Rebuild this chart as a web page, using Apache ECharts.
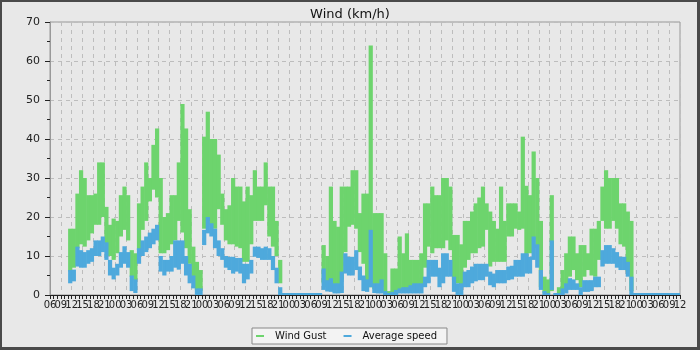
<!DOCTYPE html>
<html><head><meta charset="utf-8">
<script src="https://cdn.jsdelivr.net/npm/echarts@6/dist/echarts.min.js"></script>
<style>
html,body{margin:0;padding:0;background:#e8e8e8;}
#chart{position:absolute;left:0;top:0;width:700px;height:350px;}
#frame{position:absolute;left:0;top:0;width:700px;height:350px;box-sizing:border-box;border:2px solid #4a4a4a;border-right-width:3px;border-bottom-width:3px;pointer-events:none;}
</style></head>
<body><div id="chart"></div><div id="frame"></div>
<script>
// Hours are counted from 06:00 of the first day; arrays start at hour 5.
const START_HOUR = 5;
const xTickLabels = ['06','09','12','15','18','21','00','03'];
const seriesNames = ['Wind Gust', 'Average speed'];

// Hourly envelopes (max / min), hours 5..173
const gustHigh = [
  17,17,26,32,30,25.6,25.6,26,34,34,
  22.6,18,19.6,19,25.6,27.8,25.6,11.5,10.7,23.5,
  27.8,34,30,38.5,42.7,30,20,21,25.6,25.6,
  34,49,42.7,22,12.4,8.5,6.4,40.6,47,40,
  40,36,26,22,23,30,27.8,27.8,24,27.8,
  25.6,32,27.8,27.8,34,27.8,27.8,19,9,0,
  0,0,0,0,0,0,0,0,0,0,
  12.8,10,27.8,19,17.5,27.8,27.8,27.8,32,32,
  21,26,26,64,21,21,21,10.7,1,6.8,
  6.8,15,10.7,15.8,9,9,9,10.7,23.5,23.5,
  27.8,25.6,25.6,30,30,27.8,15.4,15.4,13,19,
  19,21.4,23.5,25,27.8,23.5,21.4,19,17,27.8,
  19,23.5,23.5,23.5,21.4,40.6,28,25.6,36.8,30,
  19,4.7,4,25.6,0,2,6.4,10.7,15,15,
  10.7,12.8,12.8,10.7,17,17,19,27.8,32,30,
  30,30,23.5,23.5,21.4,19,0,0,0,0,
  0,0,0,0,0,0,0,0,0
];
const gustLow = [
  6,7,12,13,12.4,14,15.8,18,18,20,
  13,10,9,10.7,15,16.7,14,4.7,3.8,11.5,
  16.7,19,24,27,25,10.7,10.7,11.5,13,14,
  19,16,12,8,3.8,1.3,1,17,19,18,
  17,22,18,14,13,13,12.4,12,8.5,8.5,
  13,19,19,19,23,15,12.4,10,3,0,
  0,0,0,0,0,0,0,0,0,0,
  3,2,1.5,2,2.5,4,11,17.5,18,17,
  11,8,3,2,1.5,1,2,0.5,0,0.5,
  0.5,1,1,1,1,2,2,2.5,7,12.4,
  10.7,12,12,12,14,11.5,3.8,3,2,7,
  9,10.7,10.7,12,12.4,16.7,7.3,8.5,8.5,8.5,
  8.5,15,15,17,16.7,17,10,10.7,14,12,
  2,0.4,0.4,1,0,0,1,1.5,4.7,6.4,
  3.8,2,4.7,6.4,5,4.7,9,19,17,17,
  19,17,13,12.4,6,1,0,0,0,0,
  0,0,0,0,0,0,0,0,0
];
const avgHigh = [
  6.4,6.5,12.4,11.5,11,11.5,12,14,14,15,
  13.5,9,7,8,11,12.5,11,5,4,12,
  14,15,16,17,18,10,9,9,10,14,
  14,14,10,8,5,1.7,1.7,16.7,20,18.4,
  17,14,12,10,9.8,9.8,9.5,9.5,8,8,
  9,12.4,12.4,12,12.4,12,10,7,2,0,
  0,0,0,0,0,0,0,0,0,0,
  6.8,3.8,4.3,3,3,6,10.7,9.8,9.8,11.5,
  7.3,5,4,16.7,3,3,4,1,0.5,0.8,
  1.3,1.7,2,2,2.5,3,3,3,4.7,9,
  9,9,7,10.7,10.7,9,4.7,3,3,6,
  6.4,7.3,8,8,8,8,6,5.5,6.4,6.4,
  6.4,7.3,7.5,9,9,10.7,10.7,9.8,15,13,
  6.4,1,0.4,14,0,0.5,1.7,3,4.3,4,
  3,2,3.8,3.8,3.8,4.7,4.7,11.5,12.8,12.8,
  12,11,9.8,9.8,8.5,4.7,0,0,0,0,
  0,0,0,0,0,0,0,0,0
];
const avgLow = [
  3,3.5,7.3,7,7,8,8.5,10,10,11,
  9,5,4,5,7,8,7,1,0.5,8,
  10,11,12,13,14,6,5,6,6,7,
  6.5,8,5,3,1.7,0,0,12.8,15.8,15,
  12,10,9,7,6.4,5.5,6,5.5,3,4,
  5.5,9.8,9.5,9,9,9,6.4,3,0,0,
  0,0,0,0,0,0,0,0,0,0,
  1.3,0.9,0.8,0.4,0.4,0.5,5.5,5,5,6.4,
  3.8,1,0.8,2,0.5,0.4,0.4,0,0,0,
  0,0.4,0.4,0.4,0.4,0.4,0.4,0.4,2,3,
  4.7,4.7,2,3,4.7,4.7,0.8,0,0,2,
  2,3,3.5,3.8,3.8,4.7,2.5,2,3,3,
  3,3.8,4,4.7,4.7,4.7,5.5,5.5,9,7,
  1.3,0,0,1.3,0,0,0,0.4,1.3,1.3,
  1.3,0,0.8,0.8,1,2,2,7.3,8,8,
  8,7,6.4,6.4,4.7,0,0,0,0,0,
  0,0,0,0,0,0,0,0,0
];

const GREEN = '#6dd46d', BLUE = '#4ea9dc';
const X_MIN = 0, X_MAX = 174, X_STEP = 3;
const bandData = (hi, lo) => hi.map((v, i) => [START_HOUR + i, lo[i], v]);
const tickLabel = v => xTickLabels[Math.round(v / X_STEP) % xTickLabels.length];

function bandRenderer(color, minHeight) {
  return function (params, api) {
    const h = api.value(0), lo = api.value(1), hi = api.value(2);
    const pTop = api.coord([h, hi]);
    const pBot = api.coord([h + 1, lo]);
    let y0 = pTop[1], y1 = pBot[1];
    if (y1 - y0 < minHeight) y0 = y1 - minHeight;
    if (y1 - y0 <= 0.01) return null;
    return {
      type: 'rect',
      shape: {x: pTop[0], y: y0, width: pBot[0] - pTop[0] + 0.6, height: y1 - y0},
      style: {fill: color}
    };
  };
}

const labelStyle = {fontSize: 10, color: '#222', margin: 5, fontFamily: 'DejaVu Sans', formatter: tickLabel};

const chart = echarts.init(document.getElementById('chart'), null, {renderer: 'canvas'});
chart.setOption({
  backgroundColor: '#e8e8e8',
  animation: false,
  textStyle: {fontFamily: 'DejaVu Sans'},
  title: {text: 'Wind (km/h)', left: 'center', top: 3,
    textStyle: {fontSize: 13, fontWeight: 'normal', color: '#111', fontFamily: 'DejaVu Sans'}},
  legend: {
    data: [
      {name: seriesNames[0], itemStyle: {color: GREEN}},
      {name: seriesNames[1], itemStyle: {color: BLUE}}
    ],
    left: 252, top: 328, orient: 'horizontal',
    icon: 'rect', itemWidth: 8, itemHeight: 2, itemGap: 17,
    padding: [3, 10, 3, 4],
    backgroundColor: '#f3f3f3', borderColor: '#888', borderWidth: 1,
    textStyle: {fontSize: 10, color: '#111', fontFamily: 'DejaVu Sans', padding: [0, 0, 0, 6]},
    selectedMode: false
  },
  grid: {left: 50, right: 20, top: 22, bottom: 55, show: true, borderColor: '#999', borderWidth: 1, backgroundColor: 'transparent'},
  xAxis: [
    {
      type: 'value', min: X_MIN, max: X_MAX, interval: X_STEP, position: 'bottom',
      axisLine: {show: true, lineStyle: {color: '#222'}},
      axisTick: {show: true, length: 4, lineStyle: {color: '#222'}},
      minorTick: {show: true, splitNumber: 3, length: 4, lineStyle: {color: '#222'}},
      axisLabel: Object.assign({show: true, showMinLabel: false, showMaxLabel: false, hideOverlap: false}, labelStyle),
      splitLine: {show: true, lineStyle: {color: '#bdbdbd', type: [4, 4]}}
    },
    {
      // end labels only (first and last tick), same scale as the main axis
      type: 'value', min: X_MIN, max: X_MAX, interval: X_MAX - X_MIN, position: 'bottom',
      axisLine: {show: false}, axisTick: {show: true, length: 4, lineStyle: {color: '#222'}},
      splitLine: {show: false},
      axisLabel: Object.assign({show: true, showMinLabel: true, showMaxLabel: true}, labelStyle)
    }
  ],
  yAxis: {
    type: 'value', min: 0, max: 70, interval: 10,
    axisLine: {show: true, lineStyle: {color: '#999'}},
    axisTick: {show: true, length: 5, lineStyle: {color: '#222'}},
    minorTick: {show: true, splitNumber: 2, length: 3, lineStyle: {color: '#222'}},
    axisLabel: {fontSize: 11, color: '#222', margin: 10, fontFamily: 'DejaVu Sans'},
    splitLine: {show: true, lineStyle: {color: '#bdbdbd', type: [4, 4]}}
  },
  series: [
    {name: seriesNames[0], type: 'custom', clip: true, silent: true, xAxisIndex: 0,
      renderItem: bandRenderer(GREEN, 0), encode: {x: 0, y: [1, 2]},
      itemStyle: {color: GREEN}, data: bandData(gustHigh, gustLow)},
    {name: seriesNames[1], type: 'custom', clip: true, silent: true, xAxisIndex: 0,
      renderItem: bandRenderer(BLUE, 2), encode: {x: 0, y: [1, 2]},
      itemStyle: {color: BLUE}, data: bandData(avgHigh, avgLow)}
  ]
});
</script>
</body></html>
